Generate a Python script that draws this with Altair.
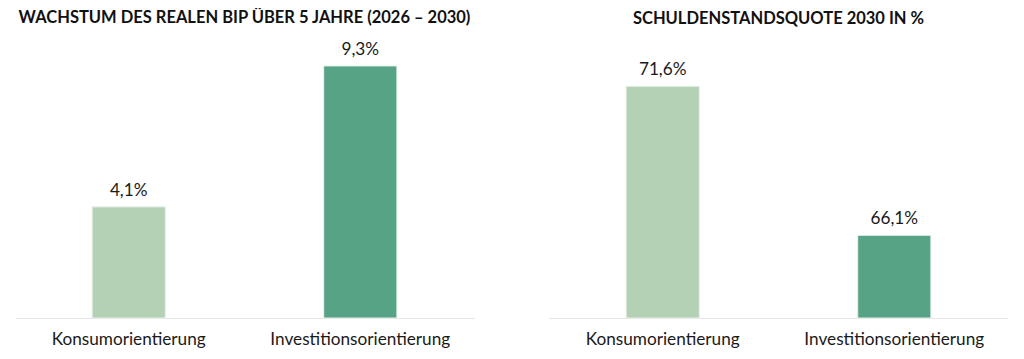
import altair as alt
import pandas as pd

categories = ["Konsumorientierung", "Investitionsorientierung"]
growth_values = [4.1, 9.3]
growth_labels = ["4,1%", "9,3%"]
debt_values = [71.6, 66.1]
debt_labels = ["71,6%", "66,1%"]
bar_colors = ["#b4d0b5", "#56a386"]

title_left = "WACHSTUM DES REALEN BIP ÜBER 5 JAHRE (2026 – 2030)"
title_right = "SCHULDENSTANDSQUOTE 2030 IN %"

FONT = "Lato"


def panel(values, labels, title, domain):
    df = pd.DataFrame({"cat": categories, "val": values, "lab": labels})
    base = alt.Chart(df)
    x = alt.X(
        "cat:N",
        sort=categories,
        title=None,
        scale=alt.Scale(paddingInner=0.684, paddingOuter=0.333),
        axis=alt.Axis(
            labelAngle=0,
            labelFontSize=17.2,
            labelFont=FONT,
            labelColor="#1a1a1a",
            ticks=False,
            domainColor="#e6e6e6",
            domainWidth=1,
            labelPadding=12,
        ),
    )
    y = alt.Y("val:Q", scale=alt.Scale(domain=domain, zero=False, nice=False), axis=None)
    bars = base.mark_bar(stroke="#e9f2ea", strokeWidth=1).encode(
        x=x,
        y=y,
        y2=alt.datum(domain[0]),
        color=alt.Color("cat:N", scale=alt.Scale(domain=categories, range=bar_colors), legend=None),
    )
    text = base.mark_text(baseline="bottom", dy=-7, fontSize=17.2, font=FONT, color="#1a1a1a").encode(
        x=x, y=y, text="lab:N"
    )
    return (bars + text).properties(
        width=459,
        height=277,
        title=alt.TitleParams(
            title,
            font=FONT,
            fontSize=16.5,
            fontWeight="bold",
            color="#111111",
            anchor="middle",
            offset=14,
        ),
    )


left = panel(growth_values, growth_labels, title_left, [0, 10.22])
right = panel(debt_values, debt_labels, title_right, [63.05, 73.27])

chart = (
    alt.hconcat(left, right, spacing=75)
    .properties(padding={"left": 7, "top": 2, "right": 5, "bottom": 5}, background="white")
    .configure_view(stroke=None)
)

chart.save("out.html", embed_options={"renderer": "svg", "actions": False})
